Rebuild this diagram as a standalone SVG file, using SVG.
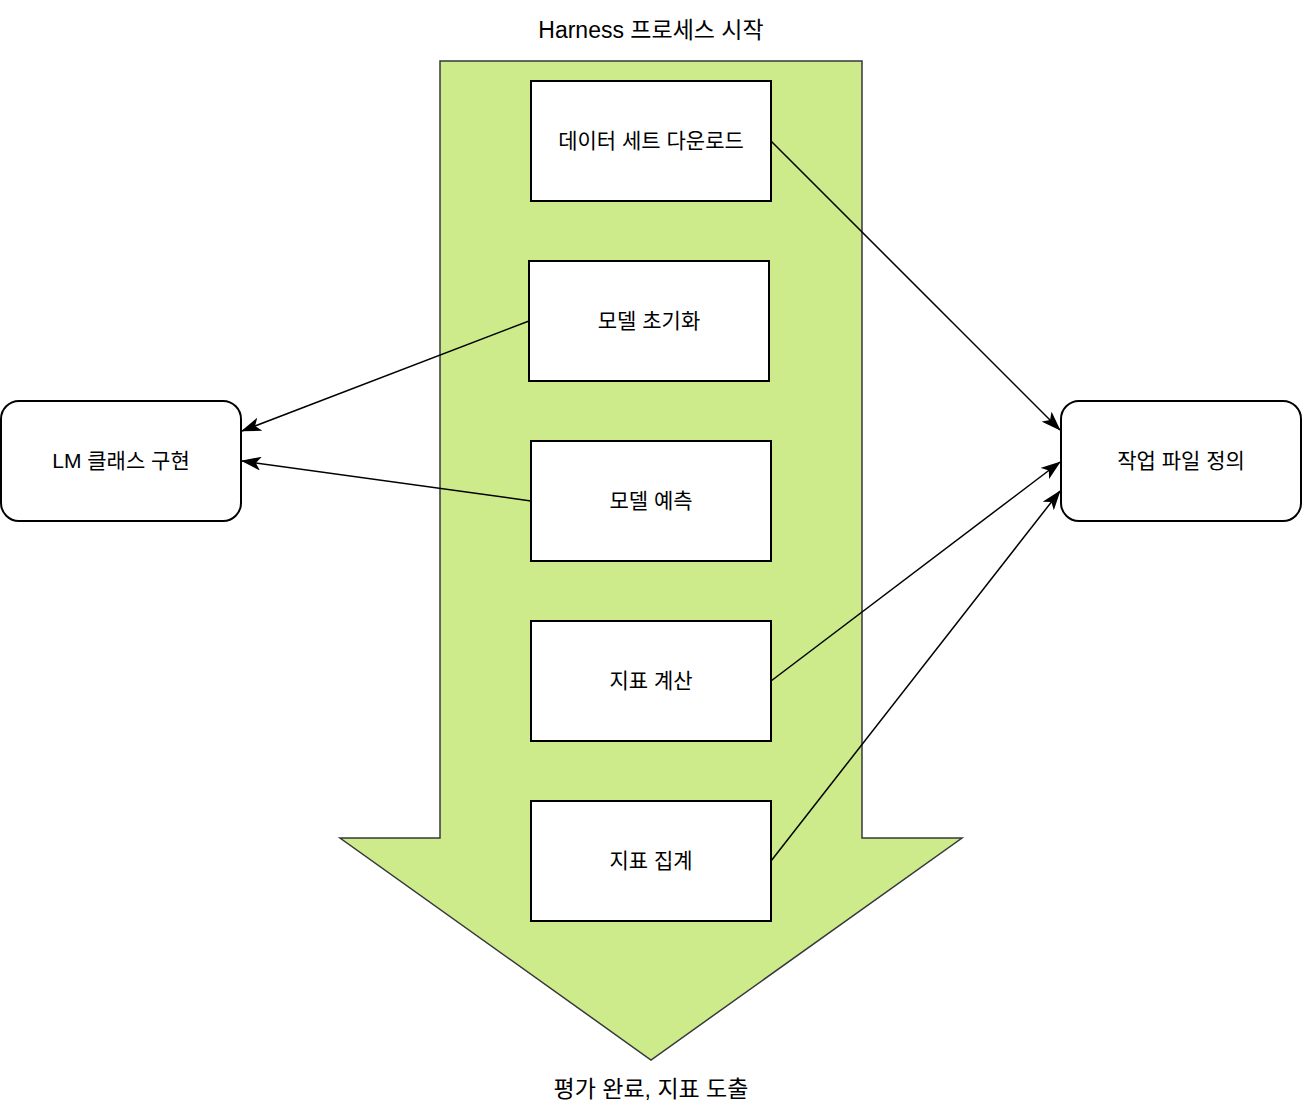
<svg xmlns="http://www.w3.org/2000/svg" width="1304" height="1120" viewBox="0 0 1304 1120">
<style>
.box{fill:#fff;stroke:#000;stroke-width:2}
.t{font-family:"Liberation Sans","Noto Sans CJK KR",sans-serif;font-size:21px;fill:#000;text-anchor:middle;dominant-baseline:central}
.big{font-size:23px}
.c{stroke:#000;stroke-width:1.5;fill:none}
</style>
<defs>
<marker id="a" viewBox="0 0 20 14" refX="19" refY="7" markerWidth="20" markerHeight="14" markerUnits="userSpaceOnUse" orient="auto">
<path d="M0,0 L20,7 L0,14 L5,7 Z" fill="#000"/>
</marker>
</defs>
<g id="flow-arrow">
<polygon points="440,61 862,61 862,838 962,838 651,1060 340,838 440,838" fill="#cdeb8b" stroke="#36393d" stroke-width="1.5"/>
</g>
<text class="t big" x="651" y="30">Harness 프로세스 시작</text>
<text class="t big" x="651" y="1089">평가 완료, 지표 도출</text>
<g id="n1"><rect class="box" x="531" y="81" width="240" height="120"/><text class="t" x="651" y="140">데이터 세트 다운로드</text></g>
<g id="n2"><rect class="box" x="529" y="261" width="240" height="120"/><text class="t" x="649" y="320">모델 초기화</text></g>
<g id="n3"><rect class="box" x="531" y="441" width="240" height="120"/><text class="t" x="651" y="500">모델 예측</text></g>
<g id="n4"><rect class="box" x="531" y="621" width="240" height="120"/><text class="t" x="651" y="680">지표 계산</text></g>
<g id="n5"><rect class="box" x="531" y="801" width="240" height="120"/><text class="t" x="651" y="860">지표 집계</text></g>
<g id="lm"><rect class="box" x="1" y="401" width="240" height="120" rx="18"/><text class="t" x="121" y="460">LM 클래스 구현</text></g>
<g id="task"><rect class="box" x="1061" y="401" width="240" height="120" rx="18"/><text class="t" x="1181" y="460">작업 파일 정의</text></g>
<g id="connectors">
<line class="c" x1="771" y1="141" x2="1060" y2="430" marker-end="url(#a)"/>
<line class="c" x1="529" y1="321" x2="242" y2="431" marker-end="url(#a)"/>
<line class="c" x1="531" y1="501" x2="242" y2="461" marker-end="url(#a)"/>
<line class="c" x1="771" y1="681" x2="1060" y2="462" marker-end="url(#a)"/>
<line class="c" x1="771" y1="861" x2="1060" y2="491" marker-end="url(#a)"/>
</g>
</svg>
